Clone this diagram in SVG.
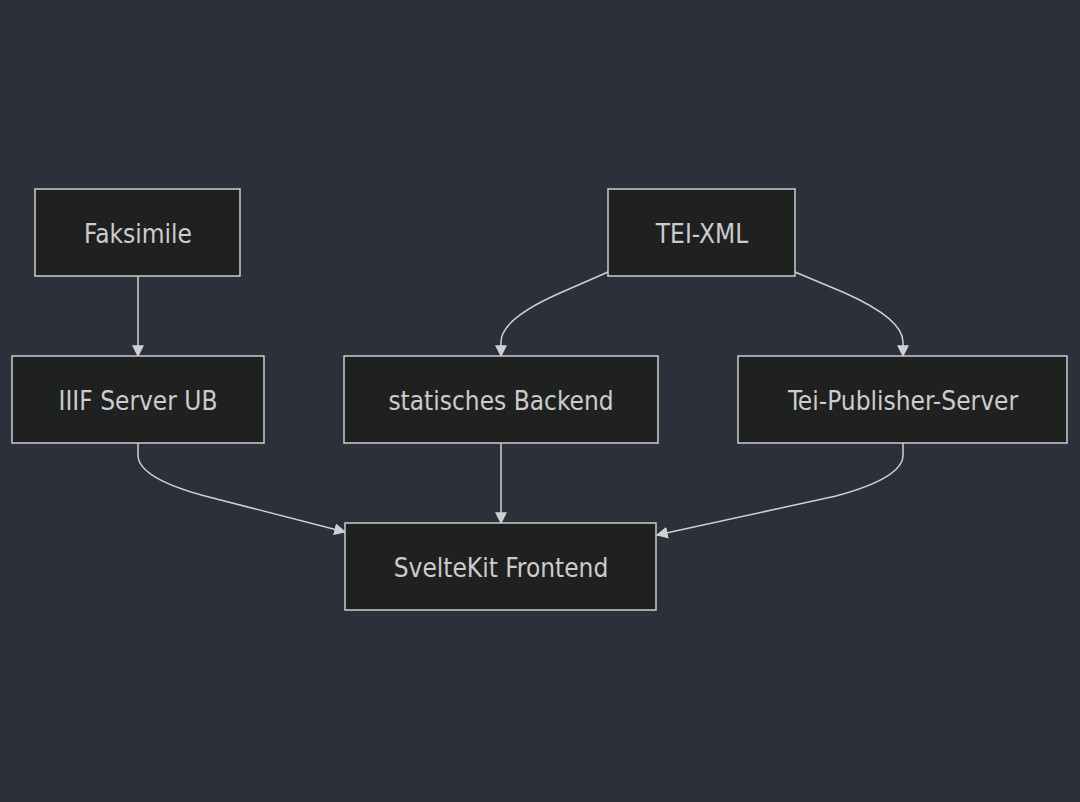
<svg xmlns="http://www.w3.org/2000/svg" width="1080" height="802" viewBox="0 0 1080 802">
<style>
.node rect{fill:#1f2020;stroke:#cccccc;stroke-width:1.5}
.node text{font-family:"DejaVu Sans Condensed","DejaVu Sans",sans-serif;font-size:26px;fill:#cccccc;text-anchor:middle;dominant-baseline:central}
.edges path{fill:none;stroke:#d0d0d0;stroke-width:1.5}
</style>
<defs>
<marker id="arr" viewBox="0 0 10 10" refX="9" refY="5" markerWidth="12" markerHeight="12" markerUnits="userSpaceOnUse" orient="auto">
<path d="M0,0 L10,5 L0,10 z" fill="#d0d0d0"/>
</marker>
</defs>
<rect width="1080" height="802" fill="#2b303b"/>
<g class="edges">
<path d="M138,276 L138,356" marker-end="url(#arr)"/>
<path d="M608,272 L560,293 Q501,319 501,342 L501,356" marker-end="url(#arr)"/>
<path d="M795,272 L845,293 Q903,319 903,342 L903,356" marker-end="url(#arr)"/>
<path d="M138,443 L138,455 Q138,478 205,496 L345,532" marker-end="url(#arr)"/>
<path d="M501,443 L501,523" marker-end="url(#arr)"/>
<path d="M903,443 L903,455 Q903,478 836,496 L657,535" marker-end="url(#arr)"/>
</g>
<g id="faksimile" class="node"><rect x="35" y="189" width="205" height="87"/><text x="138" y="234">Faksimile</text></g>
<g id="teixml" class="node"><rect x="608" y="189" width="187" height="87"/><text x="702" y="234">TEI-XML</text></g>
<g id="iiif" class="node"><rect x="12" y="356" width="252" height="87"/><text x="138" y="401">IIIF Server UB</text></g>
<g id="backend" class="node"><rect x="344" y="356" width="314" height="87"/><text x="501" y="401">statisches Backend</text></g>
<g id="teipub" class="node"><rect x="738" y="356" width="329" height="87"/><text x="903" y="401">Tei-Publisher-Server</text></g>
<g id="svelte" class="node"><rect x="345" y="523" width="311" height="87"/><text x="501" y="568">SvelteKit Frontend</text></g>
</svg>
